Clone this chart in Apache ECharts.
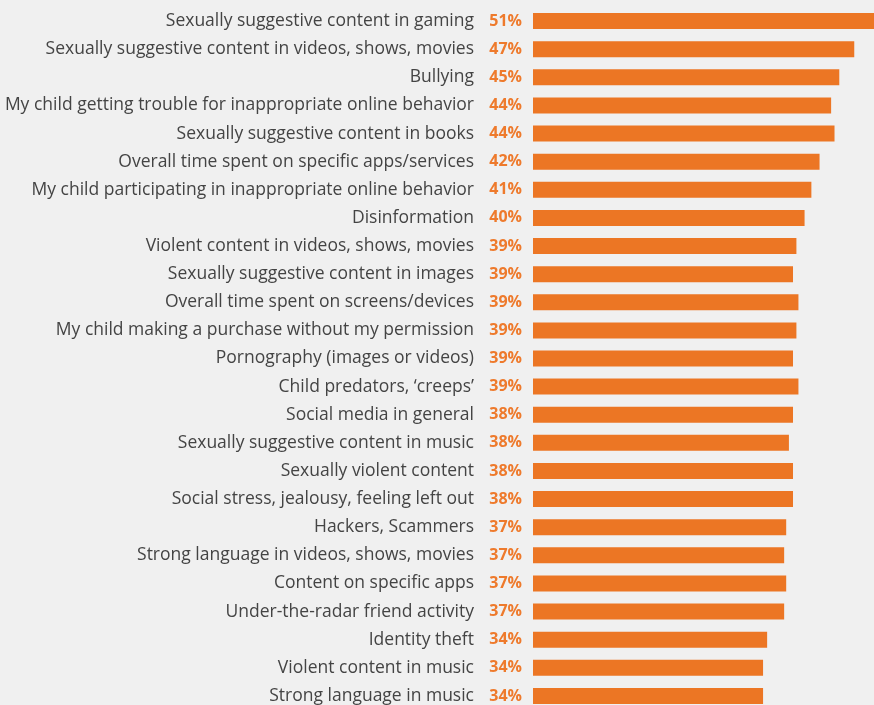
<!DOCTYPE html>
<html>
<head>
<meta charset="utf-8">
<script src="https://cdn.jsdelivr.net/npm/echarts@6/dist/echarts.min.js"></script>
<style>
  html, body { margin: 0; padding: 0; background: #f0f0f0; }
  #main { width: 874px; height: 705px; }
</style>
</head>
<body>
<div id="main"></div>
<script>
var categories = [
  'Sexually suggestive content in gaming',
  'Sexually suggestive content in videos, shows, movies',
  'Bullying',
  'My child getting trouble for inappropriate online behavior',
  'Sexually suggestive content in books',
  'Overall time spent on specific apps/services',
  'My child participating in inappropriate online behavior',
  'Disinformation',
  'Violent content in videos, shows, movies',
  'Sexually suggestive content in images',
  'Overall time spent on screens/devices',
  'My child making a purchase without my permission',
  'Pornography (images or videos)',
  'Child predators, \u2018creeps\u2019',
  'Social media in general',
  'Sexually suggestive content in music',
  'Sexually violent content',
  'Social stress, jealousy, feeling left out',
  'Hackers, Scammers',
  'Strong language in videos, shows, movies',
  'Content on specific apps',
  'Under-the-radar friend activity',
  'Identity theft',
  'Violent content in music',
  'Strong language in music'
];

// printed percentages
var shownPct = [51, 47, 45, 44, 44, 42, 41, 40, 39, 39, 39, 39, 39, 39, 38, 38, 38, 38, 37, 37, 37, 37, 34, 34, 34];

// bar lengths
var barValues = [51, 47.2, 45.0, 43.8, 44.3, 42.1, 40.9, 39.9, 38.7, 38.2, 39.0, 38.7, 38.2, 39.0,
  38.2, 37.6, 38.2, 38.2, 37.2, 36.9, 37.2, 36.9, 34.4, 33.8, 33.8];

var chart = echarts.init(document.getElementById('main'), null, { renderer: 'canvas' });

var option = {
  backgroundColor: '#f0f0f0',
  animation: false,
  grid: {
    left: 533,
    right: 0,
    top: 7,
    height: 703,
    outerBoundsMode: 'none'
  },
  xAxis: {
    type: 'value',
    min: 0,
    max: 50.1,
    show: false
  },
  yAxis: {
    type: 'category',
    inverse: true,
    data: categories,
    axisLine: { show: false },
    axisTick: { show: false },
    axisLabel: {
      margin: 11,
      formatter: function (val, i) {
        return '{n|' + val + '}{p|' + shownPct[i] + '%}';
      },
      rich: {
        n: { fontFamily: 'Open Sans', fontSize: 17.5, color: '#444444' },
        p: { fontFamily: 'Open Sans', fontSize: 16, fontWeight: 'bold', color: '#ee7a2c', width: 48, align: 'right' }
      }
    }
  },
  series: [{
    type: 'bar',
    data: barValues,
    barWidth: 16,
    itemStyle: { color: '#ec7624' },
    clip: true
  }]
};

chart.setOption(option);
</script>
</body>
</html>
